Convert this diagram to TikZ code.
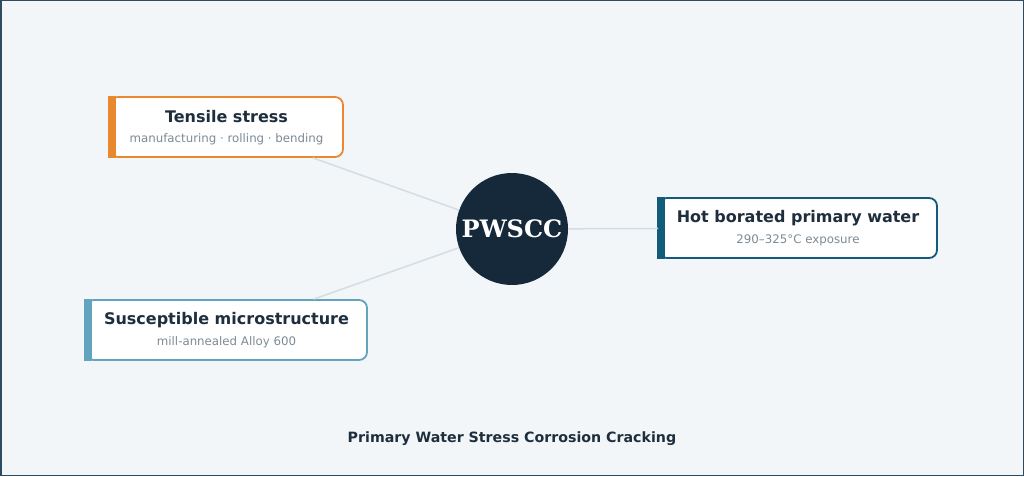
\documentclass[tikz,border=0pt]{standalone}
\usepackage{fontspec}
\setmainfont{DejaVu Sans}
\newfontfamily\coreserif{DejaVu Serif}
\definecolor{pagebg}{HTML}{F2F6F9}
\definecolor{frame}{HTML}{2F4B5F}
\definecolor{ink}{HTML}{1E2E3D}
\definecolor{subgray}{HTML}{7D8B96}
\definecolor{linkgray}{HTML}{D3DDE2}
\definecolor{corefill}{HTML}{15293A}
\definecolor{orng}{HTML}{E8892F}
\definecolor{ltblue}{HTML}{62A3BD}
\definecolor{dkblue}{HTML}{135B7B}
\begin{document}
\begin{tikzpicture}[x=1pt,y=-1pt,
    card/.style={rectangle, rounded corners=8pt, fill=white, line width=1.8pt,
      minimum height=60pt, inner sep=0pt},
    cardtitle/.style={text=ink, font=\bfseries\fontsize{16}{19}\selectfont},
    cardsub/.style={text=subgray, font=\fontsize{11.8}{14}\selectfont},
    link/.style={draw=linkgray, line width=1.5pt}]
    % page
    \useasboundingbox (0,0) rectangle (1024,476);
    \draw[fill=pagebg, draw=frame, line width=1.5pt] (0.75,0.75) rectangle (1023.25,475.25);

    % hub
    \node[circle, fill=corefill, minimum size=112pt, inner sep=0pt,
      text=white, font=\coreserif\bfseries\fontsize{24}{28}\selectfont] (core) at (512,229) {PWSCC};

    % factor cards
    \node[card, draw=orng, minimum width=233pt] (ten) at (226.5,127) {};
    \node[card, draw=ltblue, minimum width=281pt] (sus) at (226.5,330) {};
    \node[card, draw=dkblue, minimum width=278pt] (hot) at (798,228) {};
    \foreach \n/\c in {ten/orng, sus/ltblue, hot/dkblue}
      \fill[\c] ([xshift=-0.9pt]\n.north west) rectangle ([xshift=7pt]\n.south west);

    \node[cardtitle] (tenT) at ([yshift=10pt]ten.center) {Tensile stress};
    \node[cardsub] (tenS) at ([yshift=-12pt]ten.center) {manufacturing · rolling · bending};
    \node[cardtitle] (susT) at ([yshift=10pt]sus.center) {Susceptible microstructure};
    \node[cardsub] (susS) at ([yshift=-12pt]sus.center) {mill-annealed Alloy 600};
    \node[cardtitle] (hotT) at ([yshift=10pt]hot.center) {Hot borated primary water};
    \node[cardsub] (hotS) at ([yshift=-12pt]hot.center) {290–325°C exposure};

    % links
    \draw[link] (core) -- (ten);
    \draw[link] (core) -- (sus);
    \draw[link] (core) -- (hot);

    % caption
    \node[text=ink, font=\bfseries\fontsize{14.2}{17}\selectfont] (caption) at (512,439)
      {Primary Water Stress Corrosion Cracking};
\end{tikzpicture}
\end{document}
